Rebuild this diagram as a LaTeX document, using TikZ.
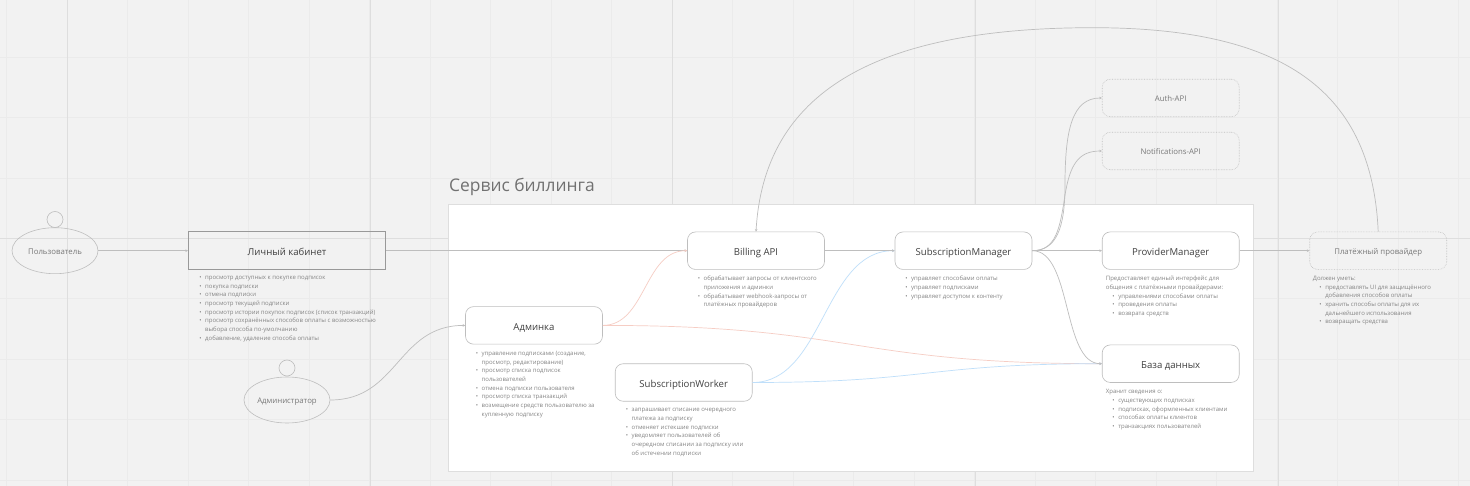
\documentclass[tikz,border=0pt]{standalone}
\usepackage{fontspec}
\setmainfont{Open Sans}
\definecolor{bgc}{HTML}{F2F2F2}
\definecolor{gmin}{HTML}{EBEBEB}
\definecolor{gmaj}{HTML}{DEDEDE}
\definecolor{edgec}{HTML}{BEBEBE}
\definecolor{txtc}{HTML}{858585}
\definecolor{titlec}{HTML}{404040}
\definecolor{salmon}{HTML}{F6CDC4}
\definecolor{skyb}{HTML}{BFDFFA}
\newcommand\bi[1]{\hspace*{\myind}\llap{\textbullet\hspace{3.6pt}}#1}
\newcommand\ci[1]{\hspace*{\myind}#1}
\newlength\myind
\usetikzlibrary{shapes.geometric,arrows.meta}
\tikzset{
 x=1pt,y=-1pt,
 conn/.style={draw=#1,line width=.7pt,-{Stealth[length=2.6pt,width=2.6pt]}},
 conn/.default=edgec,
 box/.style={draw=edgec,line width=.6pt,rounded corners=8pt,minimum width=137pt,minimum height=37.5pt,inner sep=0pt,text height=9.5pt,text depth=0pt,font=\fontsize{9.6}{12}\selectfont,text=titlec},
 solidbox/.style={box,fill=white},
 extbox/.style={box,densely dotted,text height=7.5pt,text=txtc!90!black,font=\fontsize{7.8}{10}\selectfont},
 actor/.style={draw=edgec,line width=.6pt,ellipse,minimum width=86pt,minimum height=46pt,inner sep=0pt,text height=7.2pt,text depth=0pt,font=\fontsize{7.8}{10}\selectfont,text=txtc!90!black},
 head/.style={draw=edgec,line width=.6pt,circle,minimum size=16pt,inner sep=0pt},
 notes/.style={anchor=north west,inner sep=0pt,align=left,text=txtc,font=\fontsize{6}{8.7}\selectfont},
}
\begin{document}
\begin{tikzpicture}
\useasboundingbox (0,0) rectangle (1470,486);
\fill[bgc] (0,0) rectangle (1470,486);
\foreach \i in {0,...,24} \draw[gmin,line width=.8pt] ({6.7+60.5*\i},0) -- ({6.7+60.5*\i},486);
\foreach \j in {0,...,7} \draw[gmin,line width=.8pt] (0,{57.3+60.4*\j}) -- (1470,{57.3+60.4*\j});
\foreach \i in {0,...,4} \draw[gmaj,line width=.9pt] ({67.6+302.6*\i},0) -- ({67.6+302.6*\i},486);
\draw[gmaj,line width=.7pt] (0,238.5) -- (1470,238.5);
\fill[white,draw=gmaj,line width=.7pt] (448.5,204) rectangle (1253,471.5);
\node[anchor=west,inner sep=0pt,text=txtc!85!black,font=\fontsize{17.4}{20}\selectfont] (title) at (449,186.5) {Сервис биллинга};

\node[actor] (user) at (55,250.7) {Пользователь};
\node[head] (userh) at (55,219.5) {};
\node[actor] (admin) at (287,400) {Администратор};
\node[head] (adminh) at (287,368) {};

\node[box,draw=black!40,line width=1.1pt,minimum width=197pt,minimum height=37.5pt,rounded corners=0pt] (lk) at (287,250.7) {Личный кабинет};
\node[solidbox] (billing) at (756,250.7) {Billing API};
\node[solidbox] (subm) at (963.5,250.7) {SubscriptionManager};
\node[solidbox] (prov) at (1170.7,250.7) {ProviderManager};
\node[solidbox] (db) at (1170.7,363.7) {База данных};
\node[solidbox] (adm) at (534,325.4) {Админка};
\node[solidbox] (worker) at (683.7,382.5) {SubscriptionWorker};
\node[extbox] (pay) at (1378.2,250.7) {Платёжный провайдер};
\node[extbox] (auth) at (1170.7,98) {Auth-API};
\node[extbox] (notif) at (1170.7,151) {Notifications-API};

\coordinate (apex) at (1093,27.7);
\coordinate (authmid) at (1065,185);
\coordinate (notifmid) at (1065,195);

\draw[conn] (user.east) -- (lk.west);
\draw[conn] (lk.east) -- (billing.west);
\draw[conn] (admin.east) .. controls +(68,0) and +(-68,0) .. (adm.west);
\draw[conn=salmon] (adm.east) .. controls +(43,0) and +(-43,0) .. (billing.west);
\draw[conn=salmon] (adm.east) .. controls +(250,0) and +(-250,0) .. (db.west);
\draw[conn=skyb] (worker.east) .. controls +(71,0) and +(-71,0) .. (subm.west);
\draw[conn=skyb] (worker.east) .. controls +(175,0) and +(-175,0) .. (db.west);
\draw[conn] (billing.east) -- (subm.west);
\draw[conn] (subm.east) -- (prov.west);
\draw[conn] (subm.east) .. controls +(24,0) and (1065,228) .. (authmid) .. controls (1065,130) and (1072,98) .. (auth.west);
\draw[conn] (subm.east) .. controls +(24,0) and (1060,228) .. (notifmid) .. controls (1070,165) and (1078,151) .. (notif.west);
\draw[conn] (subm.east) .. controls +(40,0) and +(-40,0) .. (db.west);
\draw[conn] (prov.east) -- (pay.west);
\draw[conn] (pay.north) .. controls (1372,93) and (1287,27.7) .. (apex) .. controls (874,27.7) and (764,93) .. (billing.north);

\setlength\myind{0pt}
\node[notes] (n1) at (205,276) {%
\bi{просмотр доступных к покупке подписок}\\
\bi{покупка подписки}\\
\bi{отмена подписки}\\
\bi{просмотр текущей подписки}\\
\bi{просмотр истории покупок подписок (список транзакций)}\\
\bi{просмотр сохранённых способов оплаты с возможностью}\\
\ci{выбора способа по-умолчанию}\\
\bi{добавление, удаление способа оплаты}};
\node[notes] (n2) at (703.5,276) {%
\bi{обрабатывает запросы от клиентского}\\
\ci{приложения и админки}\\
\bi{обрабатывает webhook-запросы от}\\
\ci{платёжных провайдеров}};
\node[notes] (n3) at (481.5,351) {%
\bi{управление подписками (создание,}\\
\ci{просмотр, редактирование)}\\
\bi{просмотр списка подписок}\\
\ci{пользователей}\\
\bi{отмена подписки пользователя}\\
\bi{просмотр списка транзакций}\\
\bi{возмещение средств пользователю за}\\
\ci{купленную подписку}};
\node[notes] (n4) at (631.5,408.3) {%
\bi{запрашивает списание очередного}\\
\ci{платежа за подписку}\\
\bi{отменяет истекшие подписки}\\
\bi{уведомляет пользователей об}\\
\ci{очередном списании за подписку или}\\
\ci{об истечении подписки}};
\node[notes] (n5) at (911,276) {%
\bi{управляет способами оплаты}\\
\bi{управляет подписками}\\
\bi{управляет доступом к контенту}};
\setlength\myind{12.4pt}
\node[notes] (n6) at (1105.7,276) {%
Предоставляет единый интерфейс для\\
общения с платёжными провайдерами:\\
\bi{управлениями способами оплаты}\\
\bi{проведения оплаты}\\
\bi{возврата средств}};
\node[notes] (n7) at (1105.7,389.3) {%
Хранит сведения о:\\
\bi{существующих подписках}\\
\bi{подписках, оформленных клиентами}\\
\bi{способах оплаты клиентов}\\
\bi{транзакциях пользователей}};
\node[notes] (n8) at (1312.7,276) {%
Должен уметь:\\
\bi{предоставлять UI для защищённого}\\
\ci{добавления способов оплаты}\\
\bi{хранить способы оплаты для их}\\
\ci{дальнейшего использования}\\
\bi{возвращать средства}};
\end{tikzpicture}
\end{document}
